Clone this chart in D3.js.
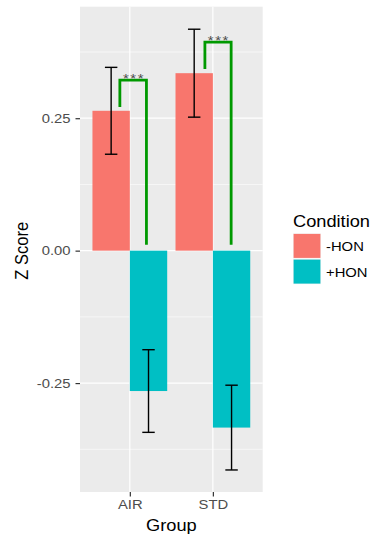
<!DOCTYPE html>
<html><head><meta charset="utf-8">
<script src="https://cdn.jsdelivr.net/npm/d3@7"></script>
<style>body{margin:0;background:#fff}svg{display:block}text{font-family:"Liberation Sans",Arial,Helvetica,sans-serif}</style>
</head><body><svg id="c" width="372" height="536"></svg>
<script>
// ---- data ----
const groups = ["AIR", "STD"];
const conditions = ["-HON", "+HON"];
const meanMinusHON = [0.264, 0.335];
const meanPlusHON = [-0.265, -0.334];
const errMinusHON = [0.082, 0.083];
const errPlusHON = [0.078, 0.080];
const yTickValues = [-0.25, 0, 0.25];
const yMinorValues = [-0.375, -0.125, 0.125, 0.375];
// significance brackets (x offsets in category units relative to group)
const bracketGroups = ["AIR", "STD"];
const bracketLeftOffset = [-0.12, -0.096];
const bracketRightOffset = [0.2, 0.22];
const bracketLeftBottom = [0.271, 0.343];
const bracketTop = [0.322, 0.3935];
const bracketRightBottom = [0.011, 0.011];
const bracketLabels = ["***", "***"];
const condColors = ["#F8766D", "#00BFC4"];

// ---- layout ----
const SX = 1.14; // horizontal text stretch of reference
const panel = {left: 80, right: 262.7, top: 6.7, bottom: 492};
const svg = d3.select("#c");

const x = d3.scalePoint().domain(groups).range([panel.left, panel.right]).padding(0.6);
const unit = x.step();
const y = d3.scaleLinear().domain([-0.4556, 0.4605]).range([panel.bottom, panel.top]);
const color = d3.scaleOrdinal().domain(conditions).range(condColors);

const rows = [];
groups.forEach((g, i) => {
  rows.push({g, c: conditions[0], v: meanMinusHON[i], e: errMinusHON[i], k: 0});
  rows.push({g, c: conditions[1], v: meanPlusHON[i], e: errPlusHON[i], k: 1});
});
const dodge = d => x(d.g) + (d.k === 0 ? -0.225 : 0.225) * unit;

// panel background
svg.append("rect").attr("x", panel.left).attr("y", panel.top)
  .attr("width", panel.right - panel.left).attr("height", panel.bottom - panel.top)
  .attr("fill", "#EBEBEB");

// gridlines
svg.selectAll(".gminor").data(yMinorValues).join("line")
  .attr("x1", panel.left).attr("x2", panel.right)
  .attr("y1", d => y(d)).attr("y2", d => y(d))
  .attr("stroke", "#fff").attr("stroke-width", 0.6);
svg.selectAll(".gmajor").data(yTickValues).join("line")
  .attr("x1", panel.left).attr("x2", panel.right)
  .attr("y1", d => y(d)).attr("y2", d => y(d))
  .attr("stroke", "#fff").attr("stroke-width", 1.2);
svg.selectAll(".gx").data(groups).join("line")
  .attr("x1", d => x(d)).attr("x2", d => x(d))
  .attr("y1", panel.top).attr("y2", panel.bottom)
  .attr("stroke", "#fff").attr("stroke-width", 1.2);

// bars
svg.selectAll(".bar").data(rows).join("rect")
  .attr("x", d => dodge(d) - 0.225 * unit)
  .attr("width", 0.45 * unit)
  .attr("y", d => y(Math.max(0, d.v)))
  .attr("height", d => Math.abs(y(d.v) - y(0)))
  .attr("fill", d => color(d.c));

// error bars
const eb = svg.selectAll(".eb").data(rows).join("g").attr("stroke", "#000").attr("stroke-width", 1.4);
eb.append("line").attr("x1", dodge).attr("x2", dodge)
  .attr("y1", d => y(d.v + d.e)).attr("y2", d => y(d.v - d.e));
eb.append("line").attr("x1", d => dodge(d) - 0.075 * unit).attr("x2", d => dodge(d) + 0.075 * unit)
  .attr("y1", d => y(d.v + d.e)).attr("y2", d => y(d.v + d.e));
eb.append("line").attr("x1", d => dodge(d) - 0.075 * unit).attr("x2", d => dodge(d) + 0.075 * unit)
  .attr("y1", d => y(d.v - d.e)).attr("y2", d => y(d.v - d.e));

// brackets
const br = bracketGroups.map((g, i) => ({g, l: bracketLeftOffset[i], r: bracketRightOffset[i],
  lb: bracketLeftBottom[i], t: bracketTop[i], rb: bracketRightBottom[i], lab: bracketLabels[i]}));
const line = d3.line();
svg.selectAll(".br").data(br).join("path")
  .attr("d", d => line([[x(d.g) + d.l * unit, y(d.lb)], [x(d.g) + d.l * unit, y(d.t)],
    [x(d.g) + d.r * unit, y(d.t)], [x(d.g) + d.r * unit, y(d.rb)]]))
  .attr("fill", "none").attr("stroke", "#009900").attr("stroke-width", 2.8)
  .attr("stroke-linejoin", "miter").attr("stroke-linecap", "butt");
const LS = 1.4;
svg.selectAll(".brl").data(br).join("text")
  .attr("transform", d => `translate(${x(d.g) + (d.l + d.r) / 2 * unit + LS * SX / 2},${y(d.t) + 2.8}) scale(${SX},1)`)
  .attr("text-anchor", "middle").attr("font-size", 13).attr("letter-spacing", LS).attr("fill", "#4a4a4a")
  .text(d => d.lab);

// axes
const yAxis = svg.append("g").attr("transform", `translate(${panel.left},0)`)
  .call(d3.axisLeft(y).tickValues(yTickValues).tickFormat(d => d.toFixed(2)).tickSize(4.5).tickPadding(5));
yAxis.select(".domain").remove();
yAxis.selectAll(".tick line").attr("stroke", "#333").attr("stroke-width", 1.2);
yAxis.selectAll(".tick text").attr("font-size", 13).attr("fill", "#4D4D4D")
  .attr("font-family", "Liberation Sans, Arial, sans-serif")
  .attr("x", -9.5 / SX).attr("transform", `scale(${SX},1)`);

const xAxis = svg.append("g").attr("transform", `translate(0,${panel.bottom})`)
  .call(d3.axisBottom(x).tickSize(4.5).tickPadding(5));
xAxis.select(".domain").remove();
xAxis.selectAll(".tick line").attr("stroke", "#333").attr("stroke-width", 1.2);
xAxis.selectAll(".tick text").attr("font-size", 13).attr("fill", "#4D4D4D")
  .attr("font-family", "Liberation Sans, Arial, sans-serif")
  .attr("dy", null).attr("y", 17.5).attr("transform", `scale(${SX},1)`);

// axis titles
svg.append("text").attr("transform", `translate(${(panel.left + panel.right) / 2},530.5) scale(${SX},1)`)
  .attr("text-anchor", "middle").attr("font-size", 16).attr("fill", "#000").text("Group");
svg.append("text").attr("transform", `translate(28.3,250.8) rotate(-90) scale(1,${SX})`)
  .attr("text-anchor", "middle").attr("font-size", 16.5).attr("fill", "#000").text("Z Score");

// legend
const lg = svg.append("g");
lg.append("text").attr("transform", `translate(293,226.7) scale(${SX},1)`)
  .attr("font-size", 16).attr("fill", "#000").text("Condition");
const items = lg.selectAll(".li").data(conditions).join("g")
  .attr("transform", (d, i) => `translate(293,${233.3 + i * 25.7})`);
items.append("rect").attr("width", 28).attr("height", 25.2).attr("fill", "#F2F2F2");
items.append("rect").attr("x", 0.6).attr("y", 0.6).attr("width", 26.8).attr("height", 24)
  .attr("fill", d => color(d));
items.append("text").attr("transform", `translate(33,17.5) scale(${SX},1)`)
  .attr("font-size", 13).attr("fill", "#000").text(d => d);
</script></body></html>
